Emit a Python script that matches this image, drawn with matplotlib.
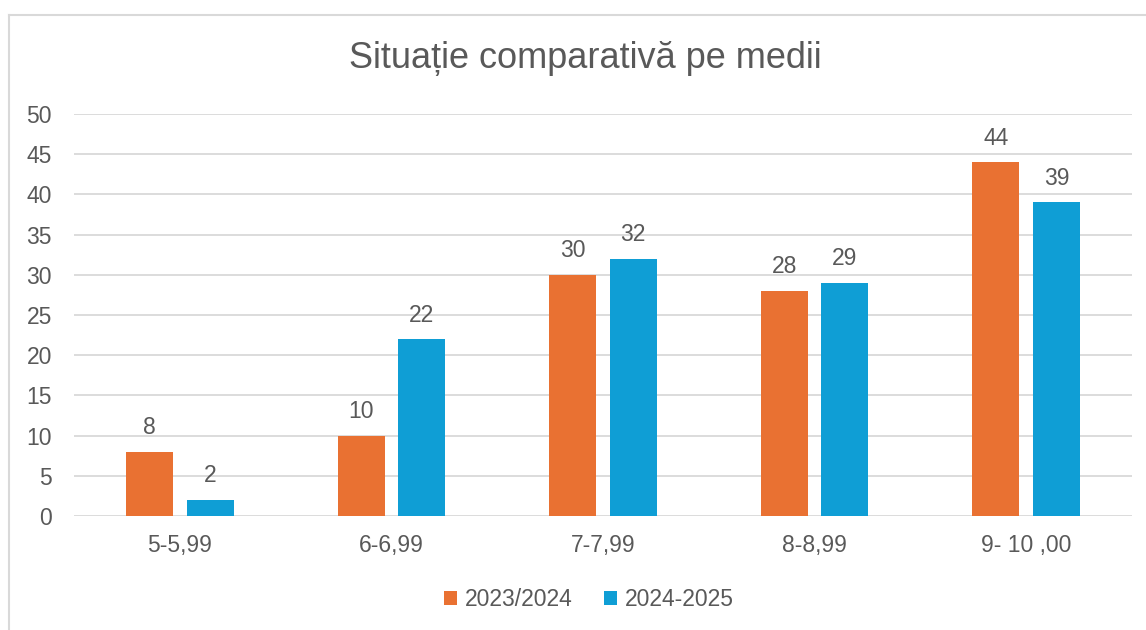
import matplotlib
matplotlib.use("Agg")
import matplotlib.pyplot as plt
from matplotlib.lines import Line2D
import numpy as np

categories = ["5-5,99", "6-6,99", "7-7,99", "8-8,99", "9- 10 ,00"]
series_names = ["2023/2024", "2024-2025"]
values_2023 = [8, 10, 30, 28, 44]
values_2024 = [2, 22, 32, 29, 39]
colors = ["#E97132", "#0F9ED5"]
text_color = "#595959"
grid_color = "#D9D9D9"

plt.rcParams['font.family'] = ['Liberation Sans', 'DejaVu Sans']

fig = plt.figure(figsize=(11.46, 6.3), dpi=100)
ax = fig.add_axes([74 / 1146, 114 / 630, (1132 - 74) / 1146, (516 - 114) / 630])

x = np.arange(len(categories))
w = 0.222
off = 0.143
bars1 = ax.bar(x - off, values_2023, w, color=colors[0], label=series_names[0], zorder=3)
bars2 = ax.bar(x + off, values_2024, w, color=colors[1], label=series_names[1], zorder=3)

for bars in (bars1, bars2):
    for b in bars:
        ax.annotate(f"{int(b.get_height())}", (b.get_x() + b.get_width() / 2, b.get_height()),
                    xytext=(0, 9), textcoords="offset points", ha="center", va="bottom",
                    fontsize=16.5, color=text_color)

ax.set_xlim(-0.5, len(categories) - 0.5)
ax.set_ylim(0, 50)
ax.set_yticks(range(0, 51, 5))
ax.set_xticks(x)
ax.set_xticklabels(categories)
ax.yaxis.grid(True, color=grid_color, linewidth=1.3, zorder=0)
for s in ax.spines.values():
    s.set_visible(False)
ax.tick_params(axis="both", length=0, labelsize=16.5, colors=text_color)
ax.tick_params(axis="y", pad=16)
ax.tick_params(axis="x", pad=13)

fig.text(0.511, 1 - 58 / 630, "Situație comparativă pe medii", ha="center", va="center",
         fontsize=26, color=text_color)

fig.legend(handles=[bars1, bars2], labels=series_names, loc="center",
           bbox_to_anchor=(589 / 1146, 1 - 600 / 630), ncol=2, frameon=False,
           fontsize=16.5, labelcolor=text_color, handlelength=0.55, handleheight=0.55,
           handletextpad=0.35, columnspacing=1.4)

# chart border (top and left edges visible in the reference)
fig.add_artist(Line2D([9 / 1146, 9 / 1146], [0, 1 - 15 / 630], color="#D9D9D9", linewidth=1.5,
                      transform=fig.transFigure))
fig.add_artist(Line2D([9 / 1146, 1], [1 - 15 / 630, 1 - 15 / 630], color="#D9D9D9", linewidth=1.5,
                      transform=fig.transFigure))

fig.savefig("out.png", dpi=100, facecolor="white")
